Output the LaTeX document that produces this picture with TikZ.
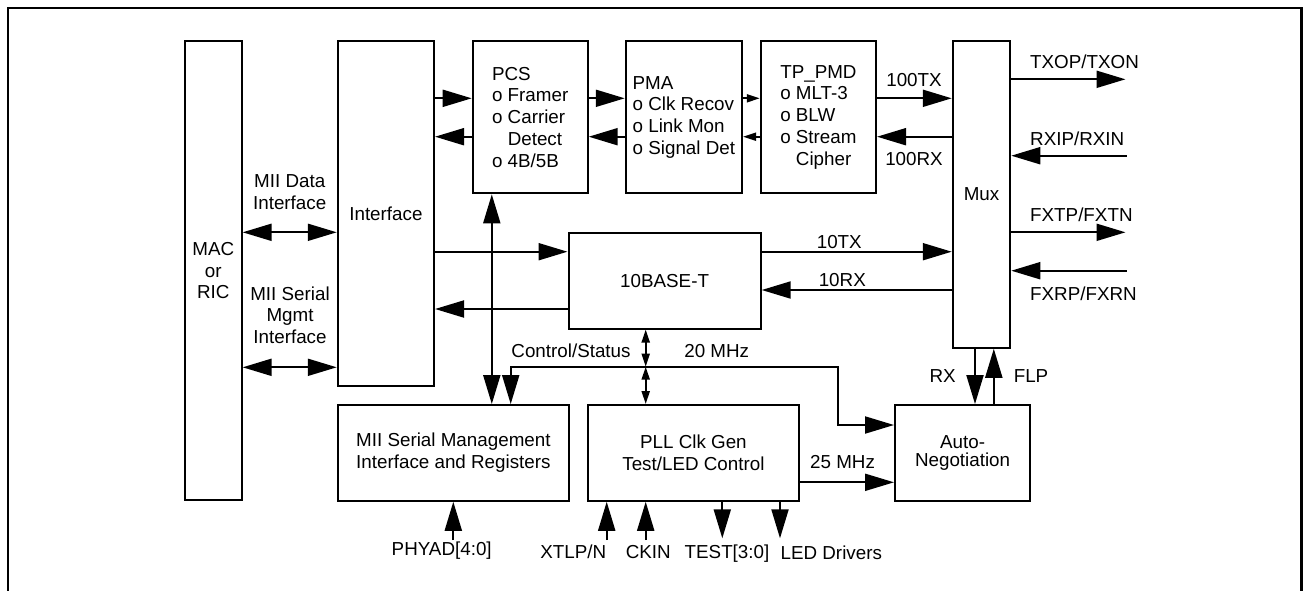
\documentclass[tikz,border=0pt]{standalone}
\usepackage{fontspec}
\setmainfont{Liberation Sans}
\usetikzlibrary{arrows.meta}
\begin{document}
\begin{tikzpicture}[x=1pt,y=-1pt,
  every node/.style={font=\fontsize{18.8}{21.8}\selectfont, inner sep=0pt},
  blk/.style={draw, line width=2pt, align=center},
  lbl/.style={anchor=base},
  lblw/.style={anchor=base west},
  conn/.style={line width=2pt},
  arr/.style={conn, -{Triangle[length=29pt,width=17pt]}},
  darr/.style={conn, {Triangle[length=29pt,width=17pt]}-{Triangle[length=29pt,width=17pt]}},
  sarr/.style={conn, -{Triangle[length=13pt,width=8pt]}},
  sdarr/.style={conn, {Triangle[length=13pt,width=8pt]}-{Triangle[length=13pt,width=8pt]}},
  frame/.style={line width=2.6pt}
]
\useasboundingbox (0,0) rectangle (1304,590);
% outer frame (open at the bottom)
\coordinate (fbl) at (8,592);
\coordinate (ftl) at (8,8);
\coordinate (ftr) at (1301.5,8);
\coordinate (fbr) at (1301.5,592);
\draw[frame] (fbl) -- (ftl) -- (ftr) -- (fbr);

% blocks
\node[blk, minimum width=56.7pt, minimum height=459.3pt] (mac) at (213.3,270.7) {MAC\\or\\RIC};
\node[blk, minimum width=96.3pt, minimum height=344.7pt] (intf) at (385.9,213.4) {Interface};
\node[blk, align=left, minimum width=115pt, minimum height=152.3pt] (pcs) at (530.2,117.2)
  {PCS\\o Framer\\o Carrier\\\hphantom{o\ }Detect\\o 4B/5B};
\node[blk, align=left, minimum width=116.3pt, minimum height=152.3pt] (pma) at (683.9,117.2)
  {PMA\\o Clk Recov\\o Link Mon\\o Signal Det};
\node[blk, align=left, minimum width=115.3pt, minimum height=152.3pt] (tpmd) at (818.4,117.2)
  {TP\_PMD\\o MLT-3\\o BLW\\o Stream\\\hphantom{o\ }Cipher};
\node[blk, minimum width=57.5pt, minimum height=306.7pt] (mux) at (981.5,194.4) {Mux};
\node[blk, minimum width=192.2pt, minimum height=95.8pt] (tenb) at (664.6,280.6) {10BASE-T};
\node[blk, minimum width=231.3pt, minimum height=95.7pt] (miireg) at (453.4,452.9)
  {MII Serial Management\\Interface and Registers};
\node[blk, minimum width=211.3pt, minimum height=95.7pt] (pll) at (693.4,452.9)
  {PLL Clk Gen\\Test/LED Control};
\node[blk, minimum width=135.2pt, minimum height=95.7pt] (autoneg) at (962.6,452.9)
  {Auto-\\[-4pt]Negotiation};

% levels and columns
\coordinate (yA) at (0,98.3);
\coordinate (yB) at (0,136.7);
\coordinate (yMD) at (0,232.3);
\coordinate (yMS) at (0,367.3);
\coordinate (y10a) at (0,251.7);
\coordinate (y10b) at (0,309);
\coordinate (y10rx) at (0,290);
\coordinate (y20) at (0,366.7);
\coordinate (y425) at (0,425);
\coordinate (y25) at (0,482.3);
\coordinate (yTX) at (0,79.3);
\coordinate (yRX) at (0,155.7);
\coordinate (yFT) at (0,232.3);
\coordinate (yFR) at (0,270.7);
\coordinate (xA) at (491.8,0);
\coordinate (xB) at (510.7,0);
\coordinate (xC) at (837.6,0);
\coordinate (xD) at (645.7,0);
\coordinate (xRX) at (975,0);
\coordinate (xFLP) at (993.8,0);
% free ends
\coordinate (txoE) at (1125.5,79.3);
\coordinate (rxiE) at (1126.5,155.7);
\coordinate (fxtE) at (1125.5,232.3);
\coordinate (fxrE) at (1126.5,270.7);
\coordinate (phE) at (453.3,540);
\coordinate (xtE) at (606.7,540);
\coordinate (ckE) at (645.7,540);
\coordinate (teE) at (722.3,538.3);
\coordinate (ledE) at (780,538.3);

% connectors
\draw[arr] (intf.east |- yA) -- (pcs.west |- yA);
\draw[arr] (pcs.west |- yB) -- (intf.east |- yB);
\draw[arr] (pcs.east |- yA) -- (pma.west |- yA);
\draw[arr] (pma.west |- yB) -- (pcs.east |- yB);
\draw[sarr] (pma.east |- yA) -- (tpmd.west |- yA);
\draw[sarr] (tpmd.west |- yB) -- (pma.east |- yB);
\draw[arr] (tpmd.east |- yA) -- (mux.west |- yA);
\draw[arr] (mux.west |- yB) -- (tpmd.east |- yB);
\draw[darr] (mac.east |- yMD) -- (intf.west |- yMD);
\draw[darr] (mac.east |- yMS) -- (intf.west |- yMS);
\draw[arr] (intf.east |- y10a) -- (tenb.west |- y10a);
\draw[arr] (tenb.west |- y10b) -- (intf.east |- y10b);
\draw[arr] (tenb.east |- y10a) -- (mux.west |- y10a);
\draw[arr] (mux.west |- y10rx) -- (tenb.east |- y10rx);
\draw[darr] (pcs.south -| xA) -- (miireg.north -| xA);
\draw[darr] (miireg.north -| xB) -- (xB |- y20) -- (xC |- y20) -- (xC |- y425) -- (autoneg.west |- y425);
\draw[sdarr] (tenb.south -| xD) -- (xD |- y20);
\draw[sdarr] (xD |- y20) -- (pll.north -| xD);
\draw[arr] (pll.east |- y25) -- (autoneg.west |- y25);
\draw[arr] (mux.south -| xRX) -- (autoneg.north -| xRX);
\draw[arr] (autoneg.north -| xFLP) -- (mux.south -| xFLP);
\draw[arr] (mux.east |- yTX) -- (txoE);
\draw[arr] (rxiE) -- (mux.east |- yRX);
\draw[arr] (mux.east |- yFT) -- (fxtE);
\draw[arr] (fxrE) -- (mux.east |- yFR);
\draw[arr] (phE) -- (miireg.south -| phE);
\draw[arr] (xtE) -- (pll.south -| xtE);
\draw[arr] (ckE) -- (pll.south -| ckE);
\draw[arr] (pll.south -| teE) -- (teE);
\draw[arr] (pll.south -| ledE) -- (ledE);

% labels
\node[align=center] (lmd) at (289.7,191.8) {MII Data\\Interface};
\node[align=center] (lms) at (290,315.2) {MII Serial\\Mgmt\\Interface};
\node[lbl] (l100tx) at (914,86.8) {100TX};
\node[lbl] (l100rx) at (914,165) {100RX};
\node[lbl] (l10tx) at (839.3,248.4) {10TX};
\node[lbl] (l10rx) at (842.3,286) {10RX};
\node[lbl] (lcs) at (571,357.4) {Control/Status};
\node[lbl] (l20) at (716.7,357.4) {20 MHz};
\node[lbl] (l25) at (842.6,468.4) {25 MHz};
\node[lbl] (lrx) at (942.6,382.7) {RX};
\node[lbl] (lflp) at (1031,382.7) {FLP};
\node[lbl] (lph) at (441.7,555) {PHYAD[4:0]};
\node[lbl] (lxt) at (573.3,558.4) {XTLP/N};
\node[lbl] (lck) at (648.3,558.4) {CKIN};
\node[lbl] (lte) at (727,558.4) {TEST[3:0]};
\node[lbl] (lled) at (831.3,559) {LED Drivers};
\node[lblw] (ltxo) at (1030,68.4) {TXOP/TXON};
\node[lblw] (lrxi) at (1030,145) {RXIP/RXIN};
\node[lblw] (lfxt) at (1030,221.7) {FXTP/FXTN};
\node[lblw] (lfxr) at (1030,300) {FXRP/FXRN};
\end{tikzpicture}
\end{document}
